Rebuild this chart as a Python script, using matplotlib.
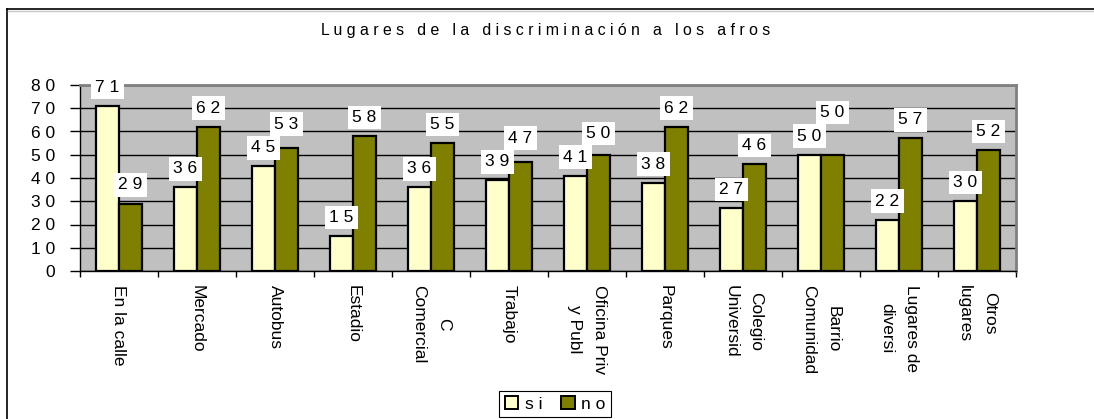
import numpy as np
import matplotlib
matplotlib.use("Agg")
import matplotlib.pyplot as plt
from matplotlib.lines import Line2D
from matplotlib.patches import Patch

plt.rcParams['font.family'] = ['Liberation Sans', 'DejaVu Sans']

title = "Lugares de la discriminación a los afros"
categories = ["En la calle", "Mercado", "Autobus", "Estadio", "C\nComercial",
              "Trabajo", "Oficina Priv\ny Publ", "Parques", "Colegio\nUniversid",
              "Barrio\nComunidad", "Lugares de\ndiversi", "Otros\nlugares"]
si = [71, 36, 45, 15, 36, 39, 41, 38, 27, 50, 22, 30]
no = [29, 62, 53, 58, 55, 47, 50, 62, 46, 50, 57, 52]
series_names = ["si", "no"]
y_ticks = [0, 10, 20, 30, 40, 50, 60, 70, 80]


def spaced(s):
    # imitate the wide character spacing of the original
    return " ".join(s)


W, H = 1094, 419
fig = plt.figure(figsize=(W / 100, H / 100), dpi=100)
ax = fig.add_axes([80 / W, 1 - 271 / H, (1016 - 80) / W, (271 - 85) / H])
ax.set_facecolor("#C0C0C0")

x = np.arange(len(categories))
w = 0.295
b1 = ax.bar(x - w / 2, si, w, color="#FFFFCC", edgecolor="black", linewidth=1.6, zorder=3)
b2 = ax.bar(x + w / 2, no, w, color="#808000", edgecolor="black", linewidth=1.6, zorder=3)

labels = []
for bars, vals in ((b1, si), (b2, no)):
    row = []
    for rect, v in zip(bars, vals):
        t = ax.annotate(spaced(str(v)), (rect.get_x() + rect.get_width() / 2, rect.get_height()),
                        xytext=(0, 8), textcoords="offset points", ha="center", va="bottom",
                        fontsize=12.5, zorder=5, annotation_clip=False,
                        bbox=dict(boxstyle="square,pad=0.25", fc="white", ec="none"))
        row.append(t)
    labels.append(row)

ax.set_xlim(-0.5, len(categories) - 0.5)
ax.set_ylim(0, 80)
ax.set_yticks(y_ticks)
ax.set_yticklabels([spaced(str(v)) for v in y_ticks], fontsize=12.5)
ax.yaxis.grid(True, color="black", linewidth=1.0, zorder=1)
ax.set_axisbelow(True)
ax.tick_params(axis="y", length=7.2, width=1, pad=10.5)

ax.set_xticks(x)
ax.set_xticklabels(categories, rotation=-90, ha="center", va="top",
                   multialignment="center", linespacing=1.8, fontsize=12.5)
ax.set_xticks(np.arange(-0.5, len(categories), 1), minor=True)
ax.tick_params(axis="x", which="major", length=0, pad=10)
ax.tick_params(axis="x", which="minor", length=4, width=1, direction="out")

for side in ("top", "right"):
    ax.spines[side].set_color("#808080")
    ax.spines[side].set_linewidth(2)
for side in ("left", "bottom"):
    ax.spines[side].set_color("black")
    ax.spines[side].set_linewidth(1)

fig.text(546 / W, 1 - 30 / H, spaced(title), ha="center", va="center", fontsize=11.4)

# outer chart border (left and top edges visible)
fig.add_artist(Line2D([7 / W, 7 / W], [0, 1 - 9 / H], color="black", linewidth=1.2))
fig.add_artist(Line2D([7 / W, 1], [1 - 9 / H, 1 - 9 / H], color="black", linewidth=1.2))
fig.add_artist(Line2D([8 / W, 1], [1 - 11 / H, 1 - 11 / H], color="#C8C8C8", linewidth=1))

handles = [Patch(facecolor="#FFFFCC", edgecolor="black", linewidth=1.4),
           Patch(facecolor="#808000", edgecolor="black", linewidth=1.4)]
leg = fig.legend(handles, [spaced(s) for s in series_names], loc="lower center",
                 bbox_to_anchor=(555 / W, 2 / H), ncol=2, fontsize=12.5,
                 frameon=True, fancybox=False, edgecolor="black", framealpha=1,
                 handlelength=0.8, handleheight=0.8, handletextpad=0.35,
                 columnspacing=1.1, borderpad=0.3, borderaxespad=0)
leg.get_frame().set_linewidth(0.8)

# push the "no" label up when it collides with the "si" label
fig.canvas.draw()
r = fig.canvas.get_renderer()
for t1, t2 in zip(labels[0], labels[1]):
    e1 = t1.get_bbox_patch().get_window_extent(r)
    e2 = t2.get_bbox_patch().get_window_extent(r)
    if e1.overlaps(e2):
        dy = (e1.y1 - e2.y0) * 72 / fig.dpi
        t2.xyann = (0, 8 + dy)

fig.savefig("out.png", dpi=100)
